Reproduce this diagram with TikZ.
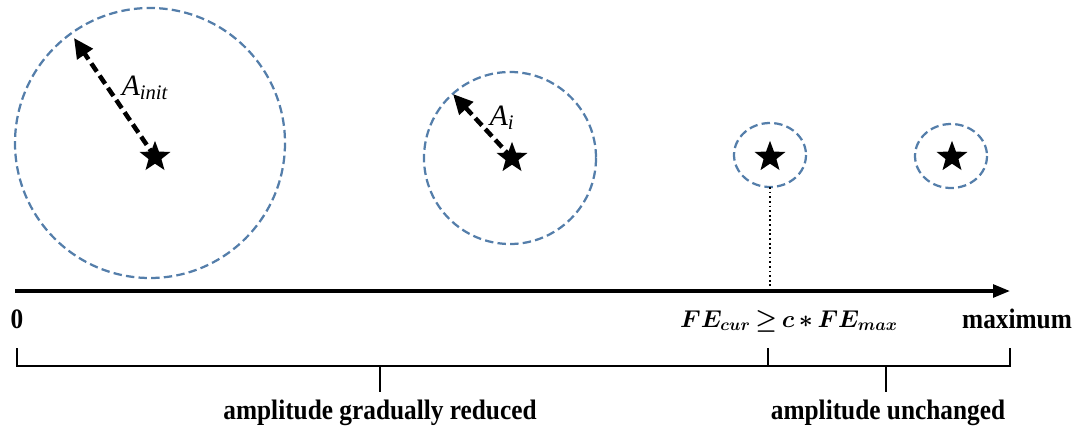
\documentclass[tikz,border=0pt]{standalone}
\usepackage{amsmath}
\usepackage{fontspec}
\setmainfont{Liberation Serif}
\newfontfamily\narrowserif[FakeStretch=0.9]{Liberation Serif}
\usetikzlibrary{shapes.geometric,arrows.meta,calc}
\definecolor{ringblue}{RGB}{84,126,170}
\tikzset{
    ring/.style={draw=ringblue, line width=1.6pt, dash pattern=on 6pt off 3pt},
    centre/.style={star, star points=5, star point ratio=2.4, fill=black, inner sep=0pt, minimum size=23pt},
    radius arrow/.style={-{Triangle[length=14pt,width=13pt]}, line width=3.2pt, dash pattern=on 7pt off 3.5pt, black},
    axis/.style={-{Triangle[length=12pt,width=9pt]}, line width=2.4pt, black},
    bracket/.style={line width=1.3pt, black},
    lbl/.style={font=\fontsize{20}{24}\narrowserif\bfseries},
    cond/.style={font=\fontsize{17}{20}\selectfont},
    amp/.style={font=\fontsize{21}{24}\selectfont\itshape},
}

\begin{document}
\begin{tikzpicture}[x=0.025cm, y=-0.025cm]
    \useasboundingbox (0,0) rectangle (1078,433);

    % initial amplitude
    \node[centre] (s1) at (155,157) {};
    \draw[ring] (150,143) circle (135);
    \coordinate (t1) at (74,38);
    \draw[radius arrow] (s1.center) -- (t1);
    \node[amp] (a1) at (145,88) {A\textsubscript{init}};

    % reduced amplitude
    \node[centre] (s2) at (512,158) {};
    \draw[ring] (510,158) circle (86);
    \coordinate (t2) at (453,94);
    \draw[radius arrow] (s2.center) -- (t2);
    \node[amp] (a2) at (502,118) {A\textsubscript{i}};

    % amplitude kept small
    \node[centre] (s3) at (770,157) {};
    \draw[ring] (770,155) ellipse (36 and 32);
    \node[centre] (s4) at (952,157) {};
    \draw[ring] (951,156) ellipse (36 and 32);

    % evaluation axis
    \coordinate (o) at (15,291);
    \coordinate (m) at (1010,291);
    \draw[axis] (o) -- (m);
    \coordinate (c) at (770,291);
    \draw[black, line width=1.3pt, dotted] (770,187) -- (c);
    \node[lbl] (zero) at (17,319) {0};
    \node[cond] (fe) at (789,321) {$\boldsymbol{FE_{cur}{\,\geq\,}c{\,\ast\,}FE_{max}}$};
    \node[lbl] (max) at (1017,319) {maximum};

    % phases
    \draw[bracket] (17,348) -- (17,366) -- (768,366) -- (768,348);
    \draw[bracket] (768,366) -- (1010,366) -- (1010,348);
    \coordinate (b1) at (380,366);
    \coordinate (b2) at (886,366);
    \draw[bracket] (b1) -- ++(0,26);
    \draw[bracket] (b2) -- ++(0,26);
    \node[lbl] (red) at (380,413) {amplitude gradually reduced};
    \node[lbl] (unch) at (888,413) {amplitude unchanged};

\end{tikzpicture}
\end{document}
